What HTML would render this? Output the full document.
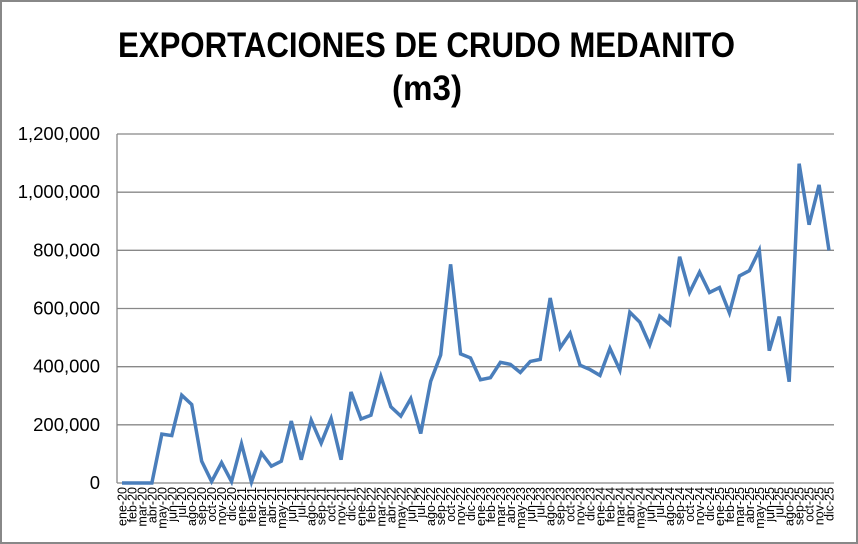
<!DOCTYPE html>
<html><head><meta charset="utf-8"><style>
body{margin:0;background:#fff}
svg{display:block;font-family:"Liberation Sans",Arial,sans-serif}
</style></head><body>
<svg id="chart" width="858" height="544" viewBox="0 0 858 544">
<rect x="1" y="1" width="856" height="542" fill="#fff" stroke="#888" stroke-width="2"/>
<text x="118" y="57" font-size="35" font-weight="bold" textLength="617" lengthAdjust="spacingAndGlyphs">EXPORTACIONES DE CRUDO MEDANITO</text>
<text x="392" y="100" font-size="35" font-weight="bold" textLength="70" lengthAdjust="spacingAndGlyphs">(m3)</text>
<g id="grid"></g><g id="yt"></g><g id="xt"></g><g id="series"></g>
</svg>
<script>
const categories=[];
const years=['20','21','22','23','24','25'];
const months=['ene','feb','mar','abr','may','jun','jul','ago','sep','oct','nov','dic'];
years.forEach(y=>months.forEach(m=>categories.push(m+'-'+y)));
const values=[0,0,0,0,168000,163000,302000,270000,75000,5000,70000,5000,
135000,3000,103000,58000,75000,213000,80000,216000,137000,222000,80000,313000,
220000,233000,366000,262000,230000,290000,170000,350000,440000,752000,444000,430000,
355000,362000,415000,408000,380000,418000,425000,636000,465000,515000,405000,390000,
370000,463000,388000,587000,553000,475000,574000,545000,778000,655000,725000,655000,
672000,585000,712000,730000,800000,455000,572000,348000,1098000,888000,1025000,800000];
const yTicks=[0,200000,400000,600000,800000,1000000,1200000];
const yTickLabels=['0','200,000','400,000','600,000','800,000','1,000,000','1,200,000'];
const NS='http://www.w3.org/2000/svg';
const x0=122,x1=829,yb=483,yt=134,pl=117,pr=834;
const xs=i=>x0+(x1-x0)*i/(categories.length-1);
const ys=v=>yb-(yb-yt)*v/1200000;
function mk(t,a,p){const e=document.createElementNS(NS,t);for(const k in a)e.setAttribute(k,a[k]);p.appendChild(e);return e;}
const grid=document.getElementById('grid'),ytg=document.getElementById('yt'),xtg=document.getElementById('xt'),sg=document.getElementById('series');
yTicks.forEach((v,i)=>{
 const l=mk('line',{x1:pl,x2:pr,y1:ys(v),y2:ys(v),stroke:'#888','stroke-width':1.3},grid);
 
 
 const t=mk('text',{x:100,y:ys(v)+6,'text-anchor':'end','font-size':18.5},ytg);
 t.textContent=yTickLabels[i];
 
 
});
const ax=mk('line',{x1:pl,x2:pl,y1:yt,y2:yb,stroke:'#888','stroke-width':1.3},grid);


categories.forEach((c,i)=>{
 const t=mk('text',{transform:`translate(${xs(i)+4.5},487) rotate(-90)`,'text-anchor':'end','font-size':12.5},xtg);
 t.textContent=c;
 
 
});
const p=mk('polyline',{points:values.map((v,i)=>xs(i)+','+ys(v)).join(' '),fill:'none',stroke:'#4a7ebb','stroke-width':3.5,'stroke-linejoin':'miter'},sg);


</script>
</body></html>
